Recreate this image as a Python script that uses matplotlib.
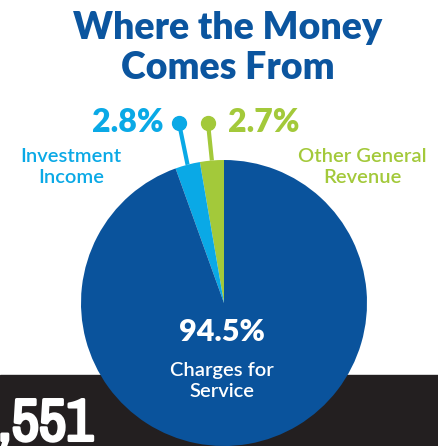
import matplotlib.pyplot as plt
import matplotlib.patheffects as pe
import numpy as np
from matplotlib import font_manager
from matplotlib.patches import Rectangle

# Revenue shares, drawn counter-clockwise from the top
categories = ['Other General\nRevenue', 'Investment\nIncome', 'Charges for\nService']
shares = [2.7, 2.8, 94.5]
colors = ['#a3c93a', '#0aa9e6', '#0a539c']
title_color = '#0b559f'
band_color = '#231f20'

W, H = 439, 446
fig = plt.figure(figsize=(W / 100, H / 100), dpi=100)
ax = fig.add_axes([0, 0, 1, 1])

plt.rcParams['font.family'] = ['Lato', 'DejaVu Sans']

# narrow face for the big figure in the band, if one is installed
narrow = [f.name for f in font_manager.fontManager.ttflist
          if 'Narrow' in f.name or 'Condensed' in f.name]
if narrow:
    band_prop = font_manager.FontProperties(family=narrow[0], size=43)
else:
    band_prop = font_manager.FontProperties(family='Lato', weight='bold', size=36)

# Dark band along the bottom
ax.add_patch(Rectangle((0, 0), W, H - 375, color=band_color, zorder=0))
ax.text(-2, 22, ',551', color='white', fontproperties=band_prop,
        ha='left', va='center', zorder=1,
        path_effects=[pe.withStroke(linewidth=2.2, foreground='white')])

cx, cy, r = 224, H - 303, 143
wedges, _ = ax.pie(shares, colors=colors, startangle=90, counterclock=True,
                   center=(cx, cy), radius=r, frame=True,
                   wedgeprops=dict(linewidth=0))
for w in wedges:
    w.set_zorder(2)
ax.set_xlim(0, W)
ax.set_ylim(0, H)
ax.set_aspect('equal')
ax.axis('off')

# Title
ax.text(W / 2 + 8, H - 28, 'Where the Money', color=title_color, fontsize=27,
        fontweight='heavy', ha='center', va='center')
ax.text(W / 2 + 8, H - 68, 'Comes From', color=title_color, fontsize=27,
        fontweight='heavy', ha='center', va='center')

# Callouts for the two small slices: dot + stem to the wedge edge
dots = [(208, H - 123), (179, H - 123)]
for w, (dx, dy), c in zip(wedges[:2], dots, colors[:2]):
    mid = np.deg2rad((w.theta1 + w.theta2) / 2)
    ex, ey = cx + r * np.cos(mid), cy + r * np.sin(mid)
    ax.plot([dx, ex], [dy, ey], color=c, lw=3, solid_capstyle='butt', zorder=1)
    ax.plot(dx, dy, 'o', color=c, ms=10, zorder=3)

ax.text(264, H - 123, f'{shares[0]}%', color=colors[0], fontsize=23,
        fontweight='heavy', ha='center', va='center')
ax.text(128, H - 123, f'{shares[1]}%', color=colors[1], fontsize=23,
        fontweight='heavy', ha='center', va='center')
ax.text(362, H - 167, categories[0], color=colors[0], fontsize=14.5,
        fontweight='semibold', ha='center', va='center', linespacing=1.25)
ax.text(71, H - 167, categories[1], color=colors[1], fontsize=14.5,
        fontweight='semibold', ha='center', va='center', linespacing=1.25)

# Main slice label
ax.text(222, H - 332, f'{shares[2]}%', color='white', fontsize=22,
        fontweight='heavy', ha='center', va='center', zorder=4)
ax.text(222, H - 381, categories[2], color='white', fontsize=14.5,
        fontweight='semibold', ha='center', va='center', linespacing=1.25,
        zorder=4)

fig.savefig('out.png', dpi=100)
